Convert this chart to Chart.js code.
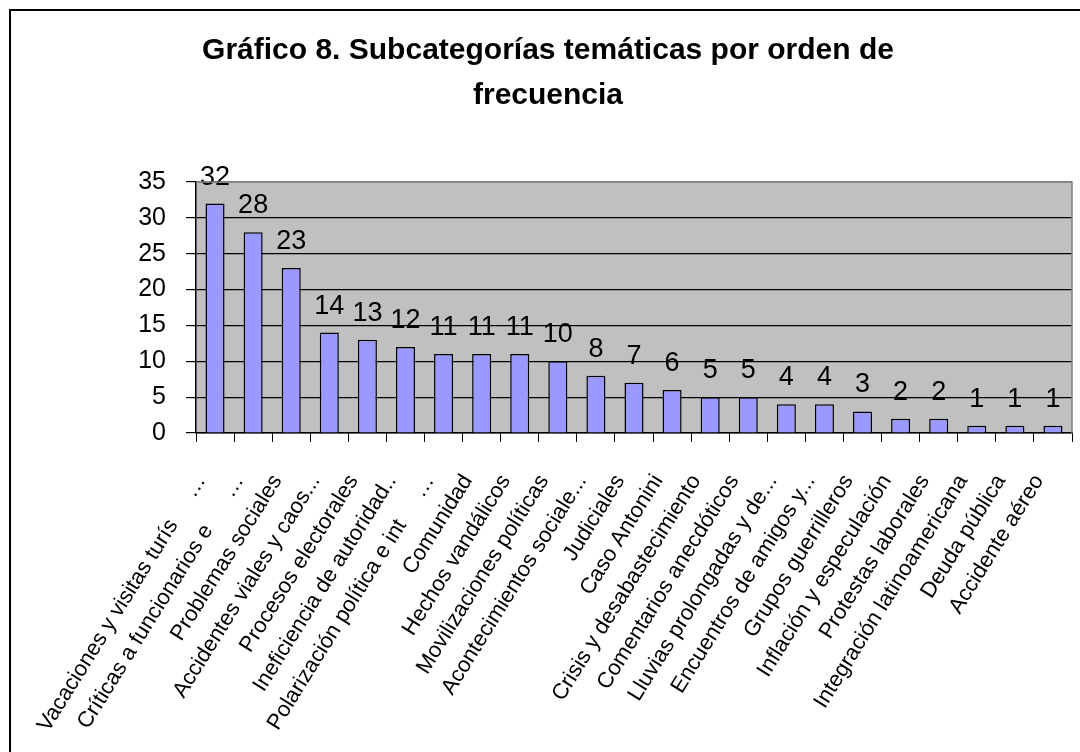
<!DOCTYPE html>
<html>
<head>
<meta charset="utf-8">
<script src="https://cdn.jsdelivr.net/npm/chart.js@4"></script>
<style>
  html, body { margin: 0; padding: 0; background: #fff; }
  #wrap { width: 1080px; height: 752px; }
</style>
</head>
<body>
<div id="wrap"><canvas id="chart" width="1080" height="752"></canvas></div>
<script>
// datos
const categorias = [
    'Vacaciones y visitas turís     …',
    'Críticas a funcionarios e      …',
    'Problemas sociales',
    'Accidentes viales y caos...',
    'Procesos electorales',
    'Ineficiencia de autoridad..',
    'Polarización política e int     …',
    'Comunidad',
    'Hechos vandálicos',
    'Movilizaciones políticas',
    'Acontecimientos sociale...',
    'Judiciales',
    'Caso Antonini',
    'Crisis y desabastecimiento',
    'Comentarios anecdóticos',
    'Lluvias prolongadas y de...',
    'Encuentros de amigos y...',
    'Grupos guerrilleros',
    'Inflación y especulación',
    'Protestas laborales',
    'Integración latinoamericana',
    'Deuda pública',
    'Accidente aéreo'
];
const frecuencias = [32, 28, 23, 14, 13, 12, 11, 11, 11, 10, 8, 7, 6, 5, 5, 4, 4, 3, 2, 2, 1, 1, 1];
const ejeY = { min: 0, max: 35, paso: 5 };
const titulo = ['Gráfico 8. Subcategorías temáticas por orden de', 'frecuencia'];

const FUENTE = "'Liberation Sans', Arial, sans-serif";

// fondo gris del área de trazado + marco exterior
const fondoPlugin = {
    id: 'fondo',
    beforeDraw: (chart) => {
        const { ctx, chartArea: { top, bottom, left, right } } = chart;
        ctx.save();
        ctx.fillStyle = '#ffffff';
        ctx.fillRect(0, 0, chart.width, chart.height);
        ctx.fillStyle = '#c0c0c0';
        ctx.fillRect(left, top, right - left, bottom - top);
        ctx.restore();
    },
    afterDraw: (chart) => {
        const { ctx, chartArea: { top, bottom, left, right } } = chart;
        ctx.save();
        // borde gris arriba y a la derecha
        ctx.strokeStyle = '#808080';
        ctx.lineWidth = 1.5;
        ctx.beginPath();
        ctx.moveTo(left, top);
        ctx.lineTo(right, top);
        ctx.lineTo(right, bottom);
        ctx.stroke();
        // marco del gráfico
        ctx.strokeStyle = '#000';
        ctx.lineWidth = 2;
        ctx.strokeRect(10, 10, chart.width + 20, chart.height + 20);
        ctx.restore();
    }
};

// etiquetas de valor encima de cada barra
const etiquetasPlugin = {
    id: 'etiquetas',
    afterDatasetsDraw: (chart) => {
        const { ctx } = chart;
        const meta = chart.getDatasetMeta(0);
        ctx.save();
        ctx.font = '27px ' + FUENTE;
        ctx.fillStyle = '#000';
        ctx.textAlign = 'center';
        ctx.textBaseline = 'alphabetic';
        meta.data.forEach((bar, i) => {
            ctx.fillText(String(frecuencias[i]), bar.x, bar.y - 19);
        });
        ctx.restore();
    }
};

new Chart(document.getElementById('chart').getContext('2d'), {
    type: 'bar',
    data: {
        labels: categorias,
        datasets: [{
            data: frecuencias,
            backgroundColor: '#9999ff',
            borderColor: '#000',
            borderWidth: 1.5,
            borderSkipped: 'bottom',
            categoryPercentage: 1,
            barPercentage: 0.5
        }]
    },
    options: {
        responsive: false,
        animation: false,
        layout: { padding: { left: 24, right: 8, top: 0, bottom: 0 } },
        plugins: {
            legend: { display: false },
            tooltip: { enabled: false },
            title: {
                display: true,
                text: titulo,
                color: '#000',
                font: { family: FUENTE, size: 30, weight: 'bold', lineHeight: 1.5 },
                padding: { top: 28, bottom: 64 }
            }
        },
        scales: {
            x: {
                grid: {
                    offset: true,
                    drawOnChartArea: false,
                    tickLength: 9,
                    color: '#000'
                },
                border: { color: '#000', width: 1.5 },
                ticks: {
                    autoSkip: false,
                    minRotation: 58,
                    maxRotation: 58,
                    padding: 28,
                    labelOffset: -14,
                    color: '#000',
                    font: { family: FUENTE, size: 22 }
                },
                afterFit: (scale) => {
                    scale.height = 319;
                    scale.paddingLeft = 0;
                    scale.paddingRight = 0;
                }
            },
            y: {
                min: ejeY.min,
                max: ejeY.max,
                ticks: {
                    stepSize: ejeY.paso,
                    padding: 20,
                    color: '#000',
                    font: { family: FUENTE, size: 25 }
                },
                grid: {
                    color: (c) => c.tick && c.tick.value === ejeY.max ? '#808080' : '#000',
                    tickColor: '#000',
                    tickLength: 10,
                    lineWidth: 1.2
                },
                border: { color: '#000', width: 1.5 },
                afterFit: (scale) => { scale.width = 172; }
            }
        }
    },
    plugins: [fondoPlugin, etiquetasPlugin]
});
</script>
</body>
</html>
